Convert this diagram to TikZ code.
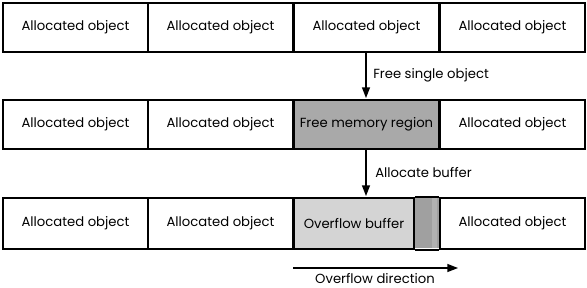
\documentclass[tikz,border=0pt]{standalone}
\usepackage{fontspec}
\setmainfont{Poppins}
\usetikzlibrary{arrows.meta}
\definecolor{freegray}{RGB}{169,169,169}
\definecolor{bufgray}{RGB}{212,212,212}
\definecolor{ovgray}{RGB}{160,160,160}
\definecolor{ovstripe}{RGB}{178,178,178}
\begin{document}
\begin{tikzpicture}[x=0.75pt,y=-0.75pt,
  cell/.style={draw=black,line width=1.5pt,minimum width=145*0.75pt,minimum height=49*0.75pt,inner sep=0pt,anchor=north west,font=\fontsize{9.9pt}{12pt}\selectfont},
  lbl/.style={font=\fontsize{9.9pt}{12pt}\selectfont,anchor=west,inner sep=0pt},
  arr/.style={line width=1pt,-{Triangle[length=8pt,width=6pt]}}]
\useasboundingbox (0,0) rectangle (587,287);
\fill[white] (0,0) rectangle (587,287);
% row 1
\node[cell] (a1) at (2,2) {Allocated object};
\node[cell] (a2) at (147,2) {Allocated object};
\node[cell] (a3) at (293,2) {Allocated object};
\node[cell] (a4) at (439,2) {Allocated object};
% row 2
\node[cell] (b1) at (2,99) {Allocated object};
\node[cell] (b2) at (147,99) {Allocated object};
\node[cell,fill=freegray] (b3) at (293,99) {Free memory region};
\node[cell] (b4) at (439,99) {Allocated object};
% row 3
\node[cell,minimum height=51*0.75pt] (c1) at (2,197) {Allocated object};
\node[cell,minimum height=51*0.75pt] (c2) at (147,197) {Allocated object};
\fill[ovgray] (413,197) rectangle (439,248);
\fill[ovstripe] (432,197) rectangle (437,248);
\node[cell,minimum height=51*0.75pt,minimum width=120*0.75pt,fill=bufgray] (c3) at (293,197) {Overflow buffer};
\node[cell,minimum height=51*0.75pt] (c4) at (439,197) {Allocated object};
\draw[line width=1.5pt] (c3.north east) -- (c4.north west) (c3.south east) -- (c4.south west);
% arrows
\coordinate (t1) at (366,51);
\coordinate (h1) at (366,98);
\draw[arr] (t1) -- (h1);
\node[lbl] (l1) at (373,75) {Free single object};
\coordinate (t2) at (366,149);
\coordinate (h2) at (366,196);
\draw[arr] (t2) -- (h2);
\node[lbl] (l2) at (375,173) {Allocate buffer};
\coordinate (t3) at (293,268);
\coordinate (h3) at (458,268);
\draw[arr] (t3) -- (h3);
\node[lbl,anchor=center] (l3) at (375,279) {Overflow direction};
\end{tikzpicture}
\end{document}
